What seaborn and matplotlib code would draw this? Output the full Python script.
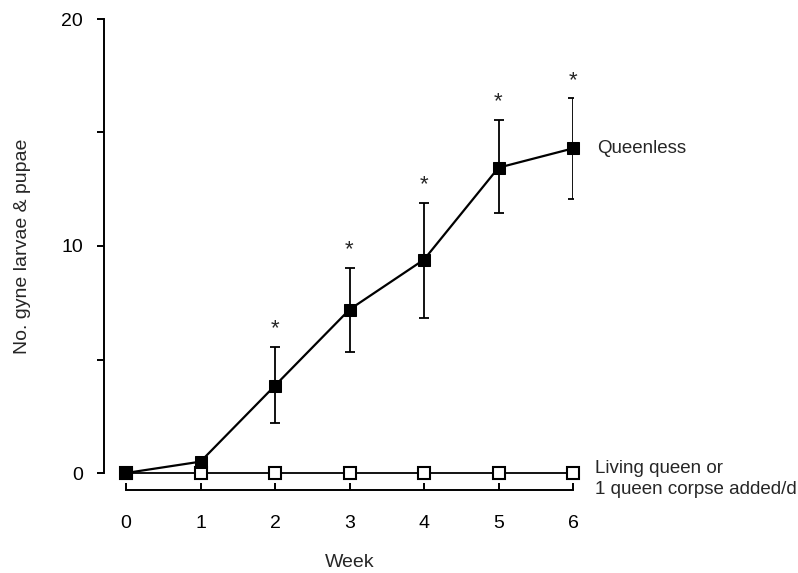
import numpy as np
import pandas as pd
import seaborn as sns
import matplotlib.pyplot as plt

# values
weeks = [0, 1, 2, 3, 4, 5, 6]
queenless_mean = [0.0, 0.5, 3.85, 7.2, 9.4, 13.45, 14.3]
queenless_low = [0.0, 0.5, 2.2, 5.35, 6.85, 11.45, 12.05]
queenless_high = [0.0, 0.5, 5.55, 9.05, 11.9, 15.55, 16.5]
queen_mean = [0.0, 0.0, 0.0, 0.0, 0.0, 0.0, 0.0]
significant = [False, False, True, True, True, True, True]

sns.set_theme(style="ticks")
plt.rcParams['font.family'] = ['Liberation Sans', 'DejaVu Sans']

df = pd.DataFrame({
    "Week": weeks * 2,
    "value": queen_mean + queenless_mean,
    "group": ["queen"] * len(weeks) + ["queenless"] * len(weeks),
})

fig = plt.figure(figsize=(7.98, 5.73), dpi=100)
ax = fig.add_axes([126 / 798, 1 - 473 / 573, (573 - 126) / 798, (473 - 19) / 573])

# living queen / corpse line (open squares)
sns.lineplot(data=df[df.group == "queen"], x="Week", y="value", ax=ax,
             color="black", lw=1.3, marker="s", markersize=8,
             markerfacecolor="white", markeredgecolor="black", markeredgewidth=1.5,
             clip_on=False, zorder=3)

# queenless line (filled squares) with error bars
qm = np.array(queenless_mean)
yerr = np.vstack([qm - np.array(queenless_low), np.array(queenless_high) - qm])
err_idx = [i for i in range(len(weeks)) if yerr[1][i] > 0]
ax.errorbar(np.array(weeks)[err_idx], qm[err_idx], yerr=yerr[:, err_idx], fmt="none",
            ecolor="black", elinewidth=1.3, capsize=3.5, capthick=1.3, zorder=3)
sns.lineplot(data=df[df.group == "queenless"], x="Week", y="value", ax=ax,
             color="black", lw=1.6, marker="s", markersize=9,
             markerfacecolor="black", markeredgecolor="black",
             clip_on=False, zorder=4)

# significance stars
for w, hi, sig in zip(weeks, queenless_high, significant):
    if sig:
        ax.text(w, hi + 0.8, "*", ha="center", va="center", fontsize=16)

ax.text(6.32, queenless_mean[-1], "Queenless", ha="left", va="center", fontsize=13.5)
ax.text(6.29, -0.25, "Living queen or\n1 queen corpse added/d", ha="left", va="center",
        fontsize=13.5, linespacing=1.3)

ax.set_xlim(0, 6)
ax.set_ylim(0, 20)
ax.set_xticks(weeks)
ax.set_yticks([0, 5, 10, 15, 20])
ax.set_yticklabels(["0", "", "10", "", "20"])

sns.despine(ax=ax)
ax.spines["left"].set_position(("outward", 22 * 0.72))
ax.spines["bottom"].set_position(("outward", 17 * 0.72))
ax.spines["left"].set_bounds(0, 20)
ax.spines["bottom"].set_bounds(0, 6)
for s in ["left", "bottom"]:
    ax.spines[s].set_linewidth(1.4)
    ax.spines[s].set_color("black")

ax.tick_params(axis="y", direction="out", length=5, width=1.4, pad=10, labelsize=14, colors="black")
ax.tick_params(axis="x", direction="in", length=5, width=1.4, pad=18, labelsize=14, colors="black")

ax.set_xlabel("Week", fontsize=14, labelpad=16)
ax.set_ylabel("No. gyne larvae & pupae", fontsize=14, labelpad=22)

fig.savefig("out.png", dpi=100)
